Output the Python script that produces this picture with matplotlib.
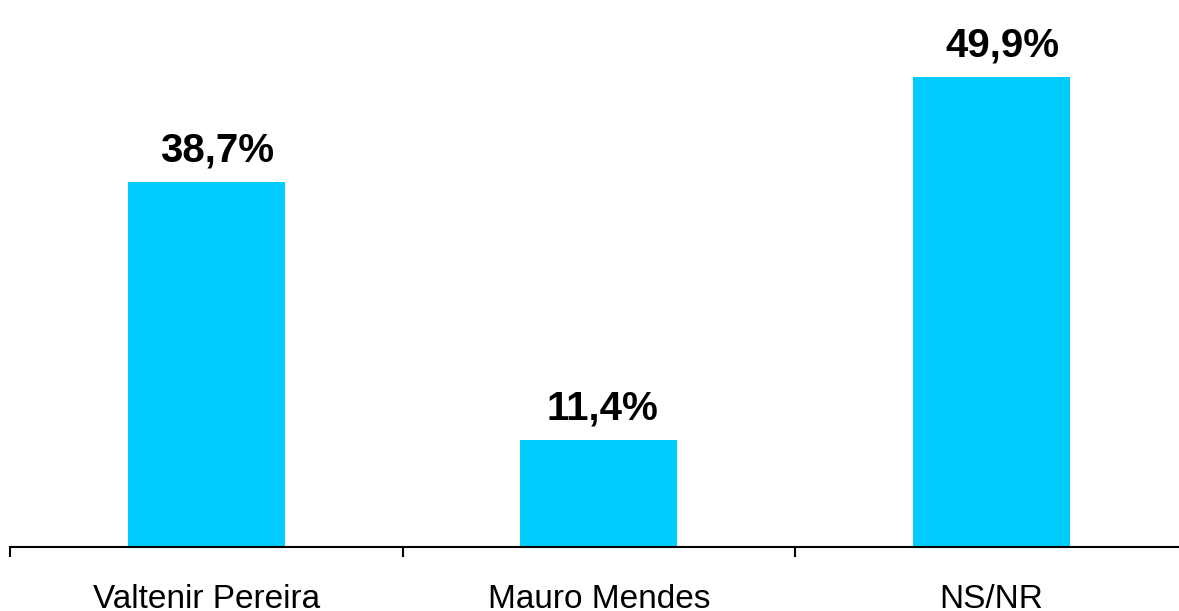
import matplotlib.pyplot as plt
import numpy as np

# data
candidates = ["Valtenir Pereira", "Mauro Mendes", "NS/NR"]
shares = [38.7, 11.4, 49.9]
labels = ["38,7%", "11,4%", "49,9%"]

plt.rcParams['font.family'] = ['Liberation Sans', 'DejaVu Sans']

fig = plt.figure(figsize=(11.79, 6.11), dpi=100)
# axes run off the right edge like the original slide
ax = fig.add_axes([10 / 1179, 64 / 611, 1177.5 / 1179, 547 / 611])

x = np.arange(len(candidates))
ax.bar(x, shares, width=0.40, color="#00CCFF")

# the value labels sit a little right of the bar centres in the original
shift = [8, 2.5, 8]
for xi, v, lab, dx in zip(x, shares, labels, shift):
    ax.annotate(lab, (xi, v), xytext=(dx, 9), textcoords="offset points",
                ha="center", va="bottom", fontsize=29, fontweight="bold")

ax.set_xlim(-0.5, 2.5)
ax.set_ylim(0, 58.07)

for s in ["top", "right", "left"]:
    ax.spines[s].set_visible(False)
ax.spines["bottom"].set_linewidth(1.5)
ax.set_yticks([])

ax.set_xticks(x)
ax.set_xticklabels(candidates, fontsize=24)
ax.tick_params(axis="x", which="major", length=0, pad=27)
ax.set_xticks([-0.5, 0.5, 1.5, 2.5], minor=True)
ax.tick_params(axis="x", which="minor", length=7.5, width=1.5, direction="out")

fig.savefig("out.png", dpi=100)
